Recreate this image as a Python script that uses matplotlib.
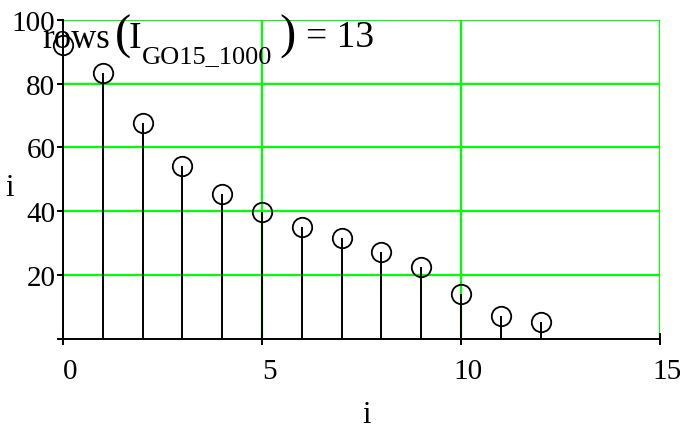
import numpy as np
import matplotlib.pyplot as plt
import matplotlib.transforms as mtransforms

# Datos (Mathcad)
idx = np.arange(0, 13)
valores = [92.0, 83.3, 67.7, 54.2, 45.5, 39.7, 35.2, 31.5, 27.1, 22.7, 14.0, 7.1, 5.3]
xticks = [0, 5, 10, 15]
yticks = [20, 40, 60, 80, 100]

plt.rcParams['font.family'] = ['Liberation Serif', 'DejaVu Serif']

W, H = 693, 431
fig = plt.figure(figsize=(W / 100, H / 100), dpi=100)
ax = fig.add_axes([63 / W, 1 - 340 / H, 597 / W, 319.3 / H])

verde = '#00ff00'
for x in [5, 10, 15]:
    ax.axvline(x, color=verde, lw=1.6, zorder=0)
for y in yticks:
    ax.axhline(y, color=verde, lw=1.6, zorder=0)

# Tallos y circulos
ax.vlines(idx, 0, valores, color='black', lw=1.4, zorder=2)
ax.plot(idx, valores, 'o', mfc='none', mec='black', ms=14, mew=1.3,
        clip_on=False, zorder=3)

ax.set_xlim(0, 15)
ax.set_ylim(0, 100)
ax.set_xticks(xticks)
ax.set_yticks([0] + yticks)
ax.set_yticklabels([''] + [str(v) for v in yticks])
ax.set_xticklabels([str(v) for v in xticks])

for s in ['top', 'right']:
    ax.spines[s].set_visible(False)
for s in ['left', 'bottom']:
    ax.spines[s].set_linewidth(1.4)

ax.tick_params(axis='y', direction='out', length=4.5, width=1.4, labelsize=21, pad=1)
ax.tick_params(axis='x', direction='inout', length=9, width=1.4, labelsize=21, pad=9)

# etiquetas del eje x algo corridas a la derecha, como en Mathcad
desplaza = mtransforms.ScaledTranslation(0.07, 0, fig.dpi_scale_trans)
for lab in ax.get_xticklabels():
    lab.set_transform(lab.get_transform() + desplaza)

ax.set_xlabel('i', fontsize=22)
ax.xaxis.set_label_coords(0.508, -0.235)
ax.xaxis.label.set_va('center')
ax.set_ylabel('i', fontsize=22, rotation=0)
ax.yaxis.set_label_coords(-0.097, 0.473)
ax.yaxis.label.set_ha('left')
ax.yaxis.label.set_va('center')

# Expresion rows(I_GO15_1000) = 13
def fx(px):
    return px / W

def fy(py):
    return 1 - py / H

fig.text(fx(42), fy(47.7), 'rows', fontsize=25, va='baseline')
fig.text(fx(115), fy(37), '(', fontsize=35, va='center', fontweight='light')
fig.text(fx(129), fy(47.7), 'I', fontsize=27, va='baseline')
fig.text(fx(142), fy(63), 'GO15_1000', fontsize=19, va='baseline')
fig.text(fx(279), fy(37), ')', fontsize=35, va='center', fontweight='light')
fig.text(fx(306), fy(47), '= 13', fontsize=27, va='baseline')

plt.savefig('out.png', dpi=100)
